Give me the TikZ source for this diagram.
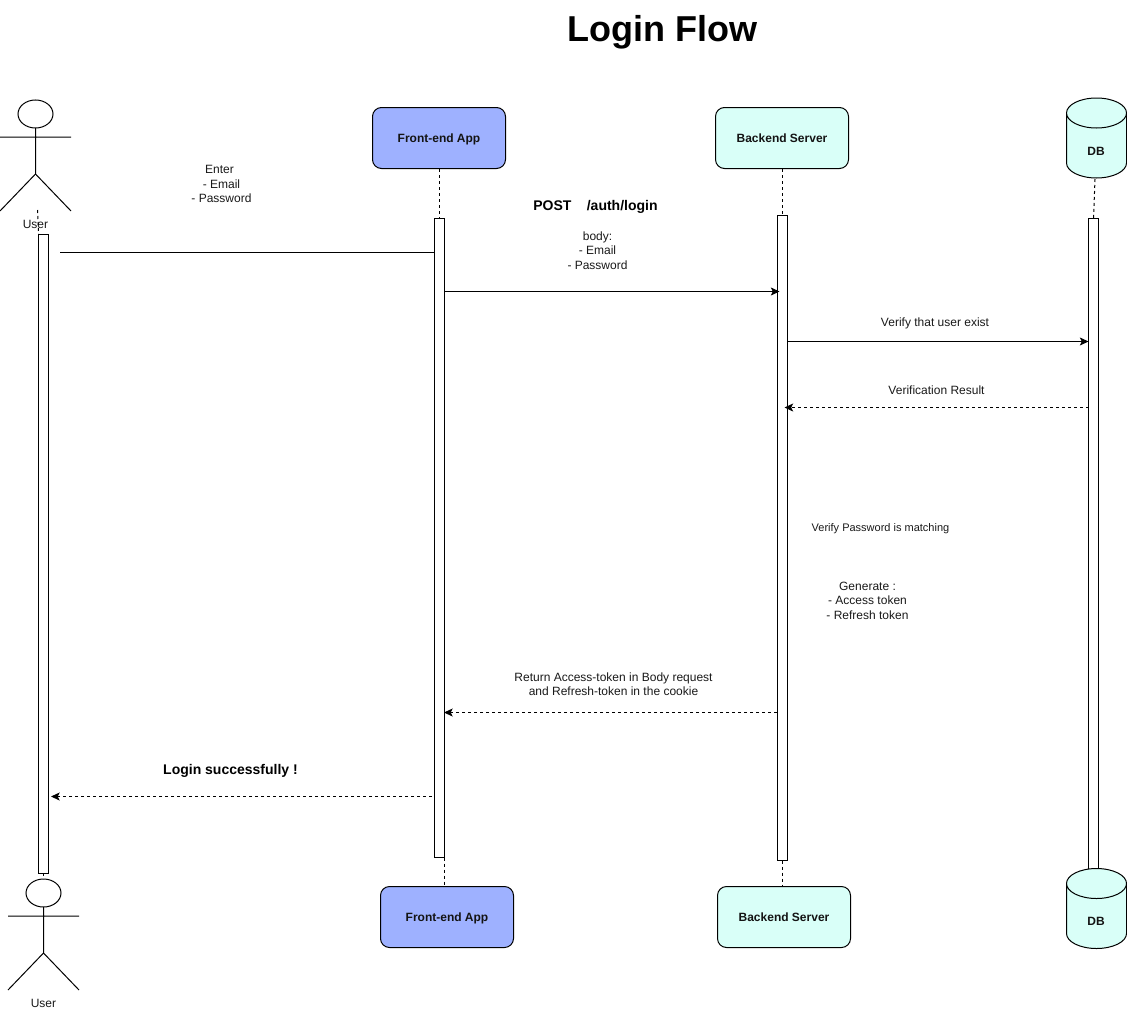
\documentclass[tikz,border=0pt]{standalone}
\usepackage{fontspec}
\setmainfont{Liberation Sans}
\usetikzlibrary{arrows.meta}
\definecolor{fecol}{HTML}{9EB1FF}
\definecolor{becol}{HTML}{D9FFF8}
\newcommand{\cylpath}[2]{% x-left, y-top
  \draw[fill=becol,line width=0.75pt] (#1,#2+15) arc[start angle=180,end angle=0,x radius=30,y radius=15]
     arc[start angle=0,end angle=-180,x radius=30,y radius=15] -- (#1,#2+65)
     arc[start angle=180,end angle=0,x radius=30,y radius=15] -- (#1+60,#2+15);}
\newcommand{\actor}[2]{% x-centre, y of head top
  \draw[line width=0.75pt] (#1,#2+14) ellipse[x radius=17.5,y radius=14];
  \draw[line width=0.75pt] (#1,#2+28) -- (#1,#2+74) (#1-35.5,#2+37) -- (#1+35.5,#2+37)
     (#1-35.5,#2+111) -- (#1,#2+74) -- (#1+35.5,#2+111);}
\tikzset{
  x=0.75pt,y=-0.75pt,
  box/.style={draw,line width=0.75pt,rounded corners=6.75pt,minimum width=99.75pt,minimum height=45.75pt,inner sep=0pt,
     font=\fontsize{9}{10.8}\selectfont\bfseries,text=black!92},
  febox/.style={box,fill=fecol},
  bebox/.style={box,fill=becol},
  bar/.style={draw,fill=white,line width=0.75pt,minimum width=7.5pt,inner sep=0pt,outer sep=0pt},
  txt/.style={inner sep=0pt,align=center,font=\fontsize{9}{10.8}\selectfont,text=black!90},
  boldtxt/.style={inner sep=0pt,align=center,font=\fontsize{10.5}{12.6}\selectfont\bfseries},
  dbl/.style={inner sep=0pt,font=\fontsize{9}{10.8}\selectfont\bfseries,text=black!92},
  life/.style={draw,dash pattern=on 2.25pt off 2.25pt,line width=0.75pt},
  msg/.style={draw,line width=0.75pt,-{Stealth[length=6.5pt,width=6pt,inset=1.5pt]}},
  reply/.style={msg,dash pattern=on 2.25pt off 2.25pt},
}
\begin{document}
\begin{tikzpicture}
\useasboundingbox (0,0) rectangle (1127,1010);
\node[font=\fontsize{27}{32}\selectfont\bfseries,inner sep=0pt] (title) at (662.5,32) {Login Flow};

% bars
\node[bar,minimum height=479.25pt] (ubar) at (43.5,553.5) {};
\node[bar,minimum height=479.25pt] (fbar) at (439,538) {};
\node[bar,minimum height=483.75pt] (bbar) at (782,538) {};
\node[bar,minimum height=492pt] (dbar) at (1093.5,546.5) {};

% heads
\node[febox] (ftop) at (439,138) {\raisebox{0pt}[\height][0pt]{Front-end App}};
\node[bebox] (btop) at (782,138) {Backend Server};
\node[febox] (fbot) at (447,917) {\raisebox{0pt}[\height][0pt]{Front-end App}};
\node[bebox] (bbot) at (784,917) {Backend Server};

% cylinders
\cylpath{1066.5}{98}
\cylpath{1066.5}{868.5}
\node[dbl] (dtop) at (1096,151) {DB};
\node[dbl] (dbot) at (1096,921) {DB};
\coordinate (dtops) at (1095,179);

% actors
\actor{35.5}{100}
\actor{43.5}{879}
\node[txt] (utop) at (35.5,224) {User};
\node[txt] (ubot) at (43.5,1003) {User};
\coordinate (ustart) at (37.5,210);
\coordinate (ustop) at (38.5,234);
\coordinate (uend) at (43.5,879);
\coordinate (fstart) at (444,857.5);
\coordinate (fend) at (444,886.5);

% lifelines
\draw[life] (ustart) -- (ustop);
\draw[life] (ubar.south) -- (uend);
\draw[life] (ftop.south) -- (fbar.north);
\draw[life] (btop.south) -- (bbar.north);
\draw[life] (dtops) -- (dbar.north);
\draw[life] (fstart) -- (fend);
\draw[life] (bbar.south) -- (bbar.south |- bbot.north);

% message rows
\coordinate (m1) at (60,252.5);
\coordinate (m2) at (779.5,291.5);
\coordinate (m3) at (0,341.5);
\coordinate (m4) at (0,407.5);
\coordinate (m5) at (0,712.5);
\coordinate (m6) at (432,796.5);
\coordinate (m6e) at (51,796.5);
\coordinate (m4e) at (784.5,407.5);

\draw[line width=0.75pt] (m1) -- (fbar.west |- m1);
\draw[msg] (fbar.east |- m2) -- (m2);
\draw[msg] (bbar.east |- m3) -- (dbar.west |- m3);
\draw[reply] (dbar.west |- m4) -- (m4e);
\draw[reply] (bbar.west |- m5) -- (fbar.east |- m5);
\draw[reply] (m6) -- (m6e);

% labels
\node[txt] (l1) at (221.5,184) {Enter\kern3pt\\- Email\\- Password};
\node[boldtxt] (l2) at (595.5,207) {POST\hspace{5.5pt} \hspace{3.1pt}/auth/login};
\node[txt] (l3) at (597.5,250.5) {body:\\- Email\\- Password};
\node[txt] (l4) at (935,323.5) {Verify that user exist};
\node[txt] (l5) at (936.5,390) {Verification Result};
\node[txt,font=\fontsize{8.25}{9.9}\selectfont] (l6) at (880.5,529) {Verify Password is matching};
\node[txt] (l7) at (867.5,600.5) {Generate :\\- Access token\\- Refresh token};
\node[txt] (l8) at (613.5,684.5) {Return Access-token in Body request\\and Refresh-token in the cookie};
\node[boldtxt] (l9) at (230.5,771) {Login successfully !};
\end{tikzpicture}
\end{document}
